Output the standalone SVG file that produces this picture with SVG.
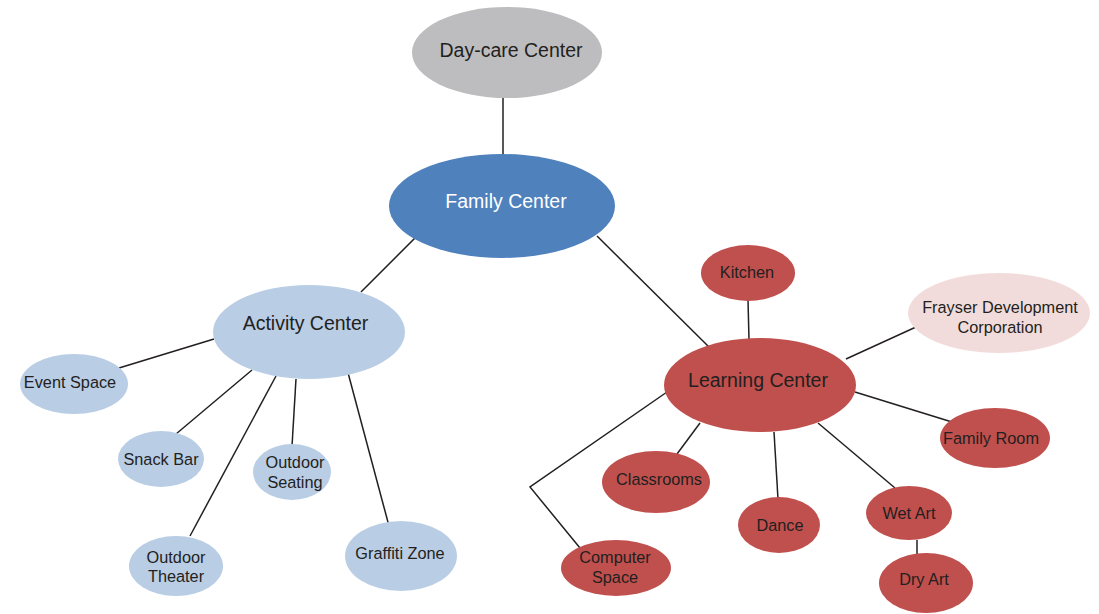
<svg xmlns="http://www.w3.org/2000/svg" width="1099" height="614" viewBox="0 0 1099 614">
<style>
text{font-family:"Liberation Sans",Arial,sans-serif;fill:#231F20;text-anchor:middle;dominant-baseline:central}
.big{font-size:19.5px}
.sm{font-size:16.3px}
.act{fill:#B9CDE5}
.lrn{fill:#C0504D}
#connectors line,#connectors polyline{stroke:#231F20;stroke-width:1.5;fill:none}
</style>
<rect width="1099" height="614" fill="#FFFFFF"/>
<g id="connectors">
<line x1="503" y1="98" x2="503" y2="155"/>
<line x1="417" y1="236" x2="361" y2="292"/>
<line x1="597" y1="236" x2="709" y2="347"/>
<line x1="214" y1="339" x2="119" y2="368"/>
<line x1="252" y1="370" x2="176" y2="434"/>
<line x1="276" y1="376" x2="190" y2="536"/>
<line x1="296" y1="379" x2="292" y2="446"/>
<line x1="347" y1="369" x2="389" y2="526"/>
<line x1="748" y1="300" x2="749" y2="340"/>
<line x1="846" y1="359" x2="916" y2="327"/>
<line x1="855" y1="392" x2="952" y2="422"/>
<line x1="818" y1="423" x2="895" y2="488"/>
<line x1="774" y1="432" x2="778" y2="499"/>
<line x1="700" y1="423" x2="677" y2="454"/>
<polyline points="667,392 530,487 580,548"/>
<line x1="917" y1="540" x2="917" y2="554"/>
</g>
<g id="daycare"><ellipse cx="507" cy="52.5" rx="95" ry="45.5" fill="#BDBDBF"/><text class="big" x="511" y="50">Day-care Center</text></g>
<g id="family"><ellipse cx="502" cy="206" rx="113" ry="52" fill="#4F81BD"/><text class="big" x="506" y="201" style="fill:#FFFFFF">Family Center</text></g>
<g id="activity"><ellipse class="act" cx="309" cy="332" rx="96" ry="47"/><text class="big" x="305.5" y="323">Activity Center</text></g>
<g id="event"><ellipse class="act" cx="74" cy="384" rx="54" ry="30"/><text class="sm" x="70" y="382">Event Space</text></g>
<g id="snack"><ellipse class="act" cx="161" cy="459" rx="43" ry="28"/><text class="sm" x="161" y="459">Snack Bar</text></g>
<g id="seating"><ellipse class="act" cx="292" cy="472" rx="39" ry="28"/><text class="sm" x="295" y="462">Outdoor</text><text class="sm" x="295" y="482">Seating</text></g>
<g id="theater"><ellipse class="act" cx="176" cy="566" rx="47" ry="30"/><text class="sm" x="176" y="557">Outdoor</text><text class="sm" x="176" y="576">Theater</text></g>
<g id="graffiti"><ellipse class="act" cx="401" cy="556" rx="56" ry="35"/><text class="sm" x="400" y="553">Graffiti Zone</text></g>
<g id="learning"><ellipse class="lrn" cx="760" cy="385" rx="96" ry="47"/><text class="big" x="758" y="380">Learning Center</text></g>
<g id="kitchen"><ellipse class="lrn" cx="748" cy="273" rx="47" ry="28"/><text class="sm" x="747" y="272">Kitchen</text></g>
<g id="frayser"><ellipse cx="999" cy="313" rx="91" ry="40" fill="#F2DCDB"/><text class="sm" x="1000" y="307">Frayser Development</text><text class="sm" x="1000" y="327">Corporation</text></g>
<g id="familyroom"><ellipse class="lrn" cx="995" cy="438" rx="55" ry="30"/><text class="sm" x="991" y="438">Family Room</text></g>
<g id="classrooms"><ellipse class="lrn" cx="656" cy="482" rx="54" ry="31"/><text class="sm" x="659" y="479">Classrooms</text></g>
<g id="dance"><ellipse class="lrn" cx="779" cy="525" rx="41" ry="28"/><text class="sm" x="780" y="525">Dance</text></g>
<g id="computer"><ellipse class="lrn" cx="616" cy="568" rx="55" ry="28"/><text class="sm" x="615" y="557">Computer</text><text class="sm" x="615" y="577">Space</text></g>
<g id="wetart"><ellipse class="lrn" cx="909" cy="513" rx="43" ry="27"/><text class="sm" x="909" y="513">Wet Art</text></g>
<g id="dryart"><ellipse class="lrn" cx="926" cy="583" rx="47" ry="30"/><text class="sm" x="924" y="579">Dry Art</text></g>
</svg>
